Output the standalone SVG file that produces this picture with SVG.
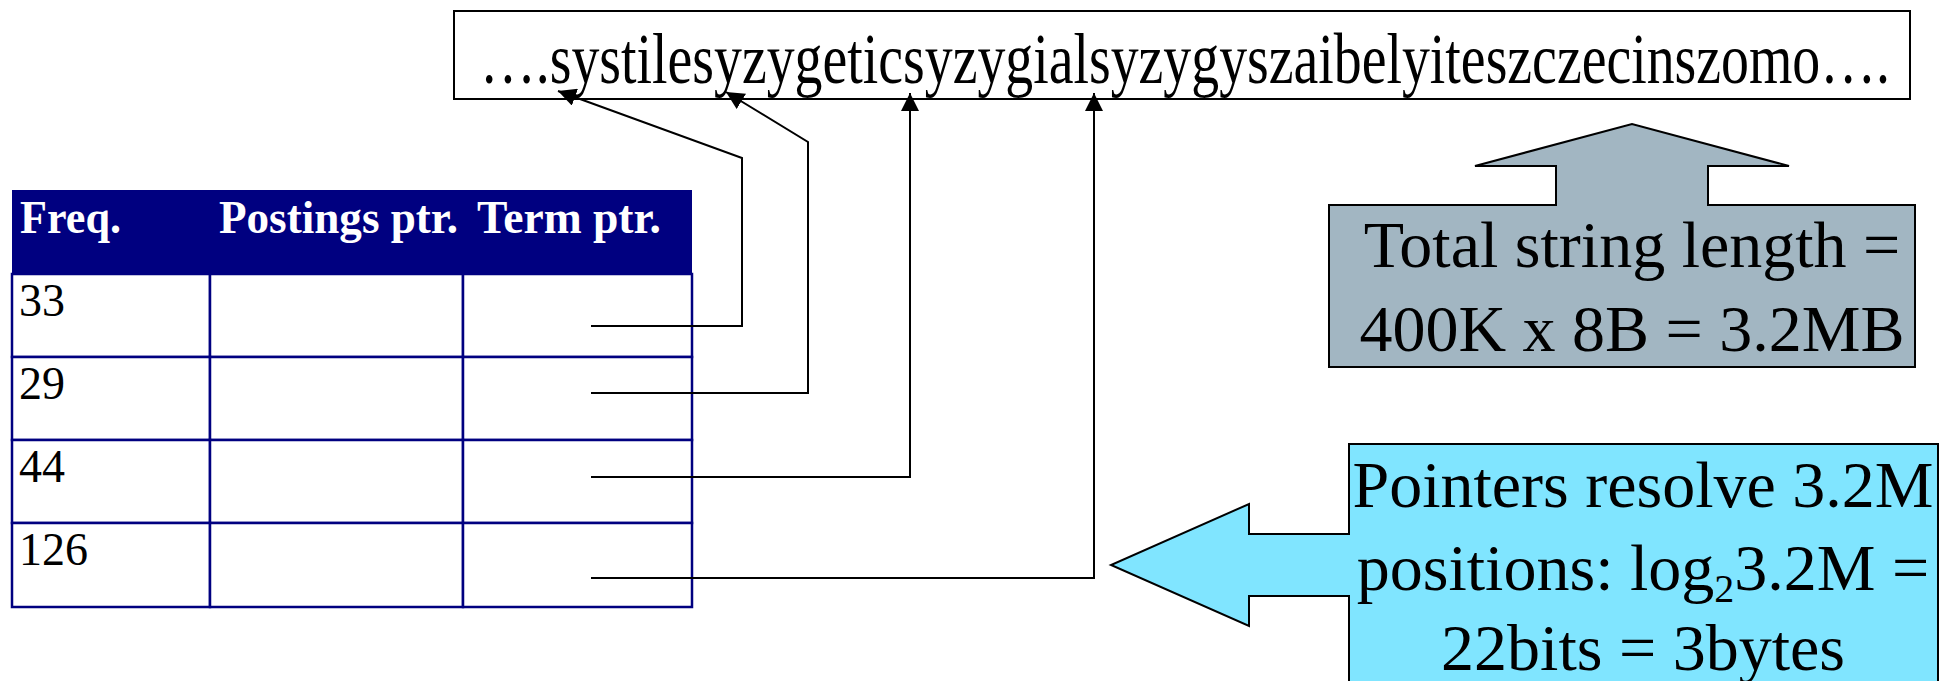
<svg xmlns="http://www.w3.org/2000/svg" width="1953" height="681" viewBox="0 0 1953 681">
<style>
.serif{font-family:"Liberation Serif","Times New Roman",serif;}
.hdr{font-family:"Liberation Serif","Times New Roman",serif;font-weight:bold;font-size:46px;fill:#ffffff;}
.cell{fill:#ffffff;stroke:#000080;stroke-width:2.5;}
.num{font-family:"Liberation Serif","Times New Roman",serif;font-size:46px;fill:#000000;}
.conn{fill:none;stroke:#000000;stroke-width:2;}
.call{font-family:"Liberation Serif","Times New Roman",serif;font-size:66px;fill:#000000;text-anchor:middle;}
</style>
<defs>
<marker id="arr" markerUnits="userSpaceOnUse" markerWidth="18" markerHeight="18" viewBox="0 0 16 16" refX="16" refY="8" orient="auto">
<path d="M0,0 L16,8 L0,16 Z" fill="#000000"/>
</marker>
</defs>
<rect width="1953" height="681" fill="#ffffff"/>

<g id="string-box">
<rect x="454" y="11" width="1456" height="88" fill="#ffffff" stroke="#000000" stroke-width="2"/>
<text class="serif" transform="translate(480,83) scale(1,1.3)" x="0" y="0" font-size="56" textLength="1410" lengthAdjust="spacingAndGlyphs">….systilesyzygeticsyzygialsyzygyszaibelyiteszczecinszomo….</text>
</g>

<g id="table">
<rect x="12" y="190" width="680" height="84" fill="#000080"/>
<text class="hdr" x="20" y="233" textLength="101" lengthAdjust="spacingAndGlyphs">Freq.</text>
<text class="hdr" x="219" y="233" textLength="239" lengthAdjust="spacingAndGlyphs">Postings ptr.</text>
<text class="hdr" x="477" y="233" textLength="184" lengthAdjust="spacingAndGlyphs">Term ptr.</text>
<rect class="cell" x="12" y="274" width="198" height="83"/>
<rect class="cell" x="210" y="274" width="253" height="83"/>
<rect class="cell" x="463" y="274" width="229" height="83"/>
<rect class="cell" x="12" y="357" width="198" height="83"/>
<rect class="cell" x="210" y="357" width="253" height="83"/>
<rect class="cell" x="463" y="357" width="229" height="83"/>
<rect class="cell" x="12" y="440" width="198" height="83"/>
<rect class="cell" x="210" y="440" width="253" height="83"/>
<rect class="cell" x="463" y="440" width="229" height="83"/>
<rect class="cell" x="12" y="523" width="198" height="84"/>
<rect class="cell" x="210" y="523" width="253" height="84"/>
<rect class="cell" x="463" y="523" width="229" height="84"/>
<text class="num" x="19" y="316">33</text>
<text class="num" x="19" y="399">29</text>
<text class="num" x="19" y="482">44</text>
<text class="num" x="19" y="565">126</text>
</g>

<g id="connectors">
<polyline class="conn" points="591,326 742,326 742,158 558,91" marker-end="url(#arr)"/>
<polyline class="conn" points="591,393 808,393 808,142 726,92" marker-end="url(#arr)"/>
<polyline class="conn" points="591,477 910,477 910,93" marker-end="url(#arr)"/>
<polyline class="conn" points="591,578 1094,578 1094,93" marker-end="url(#arr)"/>
</g>

<g id="total-length-callout">
<polygon points="1329,205 1556,205 1556,166 1475,166 1632,124 1789,166 1708,166 1708,205 1915,205 1915,367 1329,367" fill="#A2B6C2" stroke="#000000" stroke-width="2"/>
<text class="call" x="1632" y="267">Total string length =</text>
<text class="call" x="1632" y="351">400K x 8B = 3.2MB</text>
</g>

<g id="pointers-callout">
<polygon points="1349,444 1938,444 1938,692 1349,692 1349,596 1249,596 1249,626 1111,565 1249,504 1249,534 1349,534" fill="#80E5FF" stroke="#000000" stroke-width="2"/>
<text class="call" x="1643" y="507">Pointers resolve 3.2M</text>
<text class="call" x="1643" y="590">positions: log<tspan font-size="40" dy="12">2</tspan><tspan dy="-12">3.2M =</tspan></text>
<text class="call" x="1643" y="670">22bits = 3bytes</text>
</g>
</svg>
